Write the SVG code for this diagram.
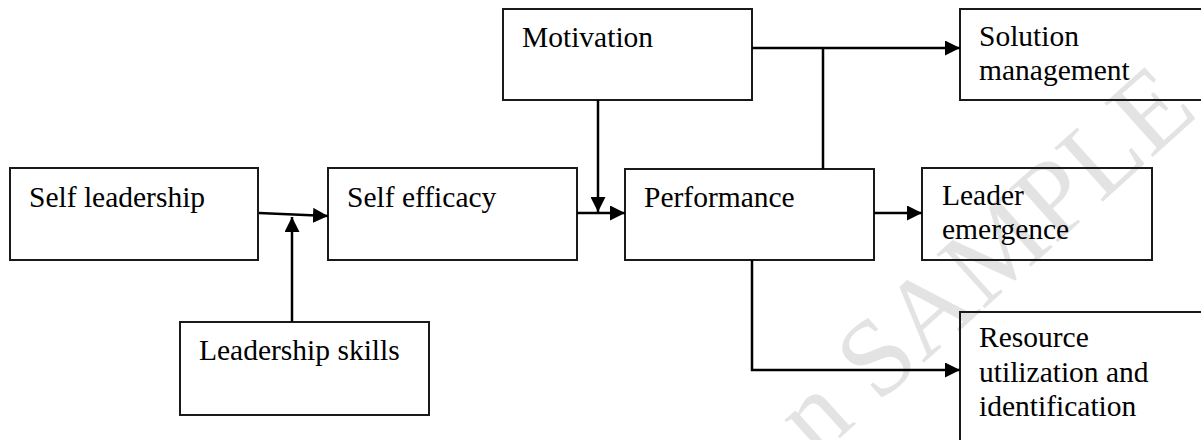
<svg xmlns="http://www.w3.org/2000/svg" width="1201" height="440" viewBox="0 0 1201 440">
  <style>
    .box { fill: none; stroke: #1a1a1a; stroke-width: 2; }
    .lbl { font-family: "Liberation Serif", "Times New Roman", serif; font-size: 29.5px; fill: #000; }
    .wire { fill: none; stroke: #000; stroke-width: 2.5; }
    .wm { font-family: "Liberation Serif", "Times New Roman", serif; font-size: 110px; fill: #e3e3e3; }
  </style>
  <defs>
    <marker id="arrow" markerUnits="userSpaceOnUse" markerWidth="15" markerHeight="15" refX="15" refY="7.5" orient="auto">
      <path d="M0,0 L15,7.5 L0,15 Z" fill="#000"/>
    </marker>
  </defs>
  <rect width="1201" height="440" fill="#fff"/>
  <text class="wm" transform="translate(878,404) rotate(-42)" x="-83" y="0">n SAMPLE</text>

  <g id="self-leadership">
    <rect class="box" x="10" y="168" width="248" height="92"/>
    <text class="lbl" x="29" y="207">Self leadership</text>
  </g>
  <g id="leadership-skills">
    <rect class="box" x="180" y="322" width="249" height="93"/>
    <text class="lbl" x="199" y="360">Leadership skills</text>
  </g>
  <g id="self-efficacy">
    <rect class="box" x="328" y="168" width="249" height="92"/>
    <text class="lbl" x="347" y="207">Self efficacy</text>
  </g>
  <g id="motivation">
    <rect class="box" x="503" y="9" width="249" height="91"/>
    <text class="lbl" x="522" y="47">Motivation</text>
  </g>
  <g id="performance">
    <rect class="box" x="625" y="169" width="249" height="91"/>
    <text class="lbl" x="644" y="207">Performance</text>
  </g>
  <g id="solution-management">
    <rect class="box" x="960" y="9" width="260" height="91"/>
    <text class="lbl" x="979" y="46">Solution</text>
    <text class="lbl" x="979" y="80">management</text>
  </g>
  <g id="leader-emergence">
    <rect class="box" x="922" y="168" width="230" height="92"/>
    <text class="lbl" x="942" y="205">Leader</text>
    <text class="lbl" x="942" y="239">emergence</text>
  </g>
  <g id="resource-utilization">
    <rect class="box" x="960" y="312" width="260" height="150"/>
    <text class="lbl" x="979" y="347">Resource</text>
    <text class="lbl" x="979" y="382">utilization and</text>
    <text class="lbl" x="979" y="416">identification</text>
  </g>

  <g id="connectors">
    <path class="wire" d="M259,213 L328,216" marker-end="url(#arrow)"/>
    <path class="wire" d="M292,322 L292,217" marker-end="url(#arrow)"/>
    <path class="wire" d="M577,213 L625,213" marker-end="url(#arrow)"/>
    <path class="wire" d="M598,100 L598,212" marker-end="url(#arrow)"/>
    <path class="wire" d="M752,48 L960,48" marker-end="url(#arrow)"/>
    <path class="wire" d="M823,169 L823,48"/>
    <path class="wire" d="M874,213 L922,213" marker-end="url(#arrow)"/>
    <path class="wire" d="M752,260 L752,370 L960,370" marker-end="url(#arrow)"/>
  </g>
</svg>
